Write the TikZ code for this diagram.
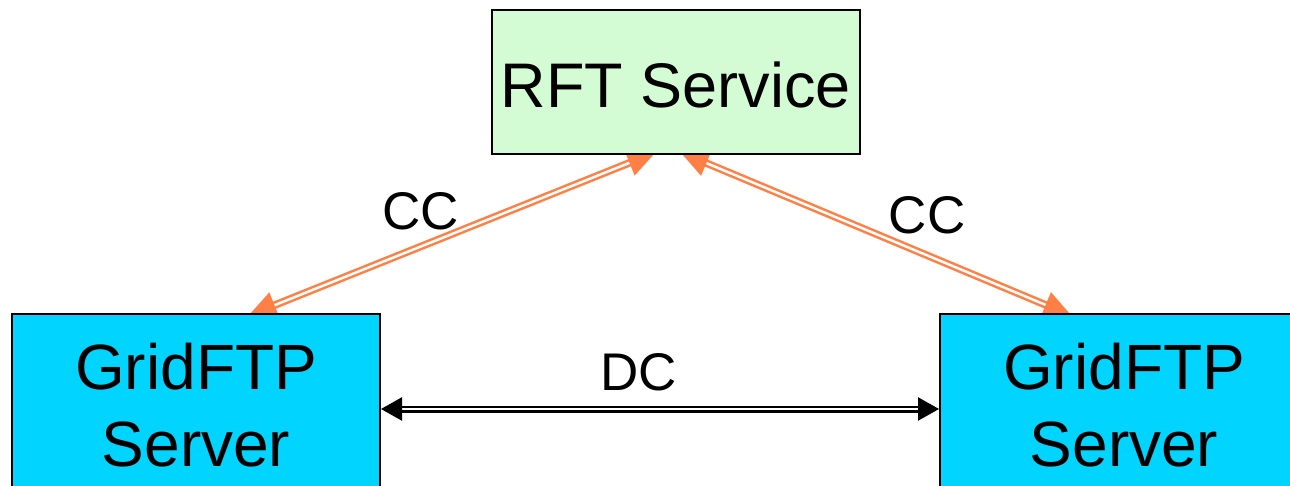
\documentclass[tikz,border=0pt]{standalone}
\usepackage{fontspec}
\setmainfont{Liberation Sans}
\usetikzlibrary{arrows.meta,backgrounds}
\definecolor{rftgreen}{RGB}{212,252,212}
\definecolor{ftpcyan}{RGB}{0,212,255}
\definecolor{ccorange}{RGB}{255,127,68}
\tikzset{
  box/.style={draw=black, line width=2pt, inner sep=0pt, align=center,
    font=\fontsize{64}{77}\selectfont},
  ccline/.style={draw=ccorange, line width=2.5pt, double=white, double distance=2.5pt,
    shorten <=-7pt, shorten >=-7pt,
    {Triangle[length=28pt,width=27pt]}-{Triangle[length=28pt,width=27pt]}},
  dcline/.style={draw=black, line width=2.5pt, double=white, double distance=2pt,
    {Triangle[length=21pt,width=23pt]}-{Triangle[length=21pt,width=23pt]}},
  lbl/.style={font=\fontsize{53}{60}\selectfont, inner sep=0pt}
}
\begin{document}
\begin{tikzpicture}[x=1pt, y=-1pt]
  \clip (0,0) rectangle (1290,486);

  % the three hosts
  \node[box, fill=rftgreen, minimum width=368pt, minimum height=144pt,
        font=\fontsize{63}{77}\selectfont, text height=52pt, text depth=0pt] (rft) at (676,82) {RFT Service};
  \node[box, fill=ftpcyan, minimum width=368pt, minimum height=182pt] (ftpL) at (196,405) {GridFTP\\Server};
  \node[box, fill=ftpcyan, minimum width=368pt, minimum height=182pt] (ftpR) at (1124,405) {GridFTP\\Server};

  % control channels, tucked under the boxes
  \begin{scope}[on background layer]
    \fill[white] (0,0) rectangle (1290,486);
    \draw[ccline] ([xshift=59pt]ftpL.north) -- ([xshift=-27pt]rft.south);
    \draw[ccline] ([xshift=11pt]rft.south) -- ([xshift=-59pt]ftpR.north);
  \end{scope}

  % data channel
  \draw[dcline] ([yshift=-4pt]ftpL.east) -- ([yshift=-4pt]ftpR.west);

  % channel labels
  \node[lbl] (ccL) at (421,211) {CC};
  \node[lbl] (ccR) at (927,215) {CC};
  \node[lbl] (dc) at (639,372) {DC};
\end{tikzpicture}
\end{document}
